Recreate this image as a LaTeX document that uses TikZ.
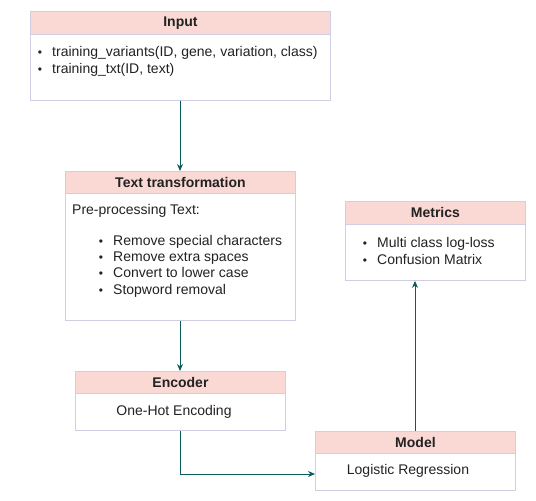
\documentclass[tikz,border=0pt]{standalone}
\usepackage{fontspec}
\setmainfont{Liberation Sans}
\usetikzlibrary{arrows.meta}
\definecolor{hdr}{HTML}{FAD9D5}
\definecolor{brd}{HTML}{D0CEE2}
\definecolor{arr}{HTML}{0B5D5C}
\definecolor{txt}{HTML}{222222}
\tikzset{
  boxbody/.style={draw=brd, line width=0.9pt, fill=white, anchor=north west, inner sep=0pt},
  boxhead/.style={draw=brd, line width=0.9pt, fill=hdr, anchor=north west, inner sep=0pt, font=\fontsize{14}{16}\selectfont\bfseries, text=txt},
  itm/.style={anchor=base west, inner sep=0pt, font=\fontsize{14}{16}\selectfont, text=txt},
  ctr/.style={anchor=base, inner sep=0pt, font=\fontsize{14}{16}\selectfont, text=txt},
  bul/.style={anchor=base, inner sep=0pt, font=\fontsize{12}{14}\selectfont, text=txt},
  conn/.style={draw=arr, line width=0.9pt, -{Stealth[length=7pt,width=6pt]}}
}
\begin{document}
\begin{tikzpicture}[x=1pt,y=-1pt]
\useasboundingbox (0,0) rectangle (536,501);
% Input
\node[boxbody, minimum width=300pt, minimum height=89pt] (input) at (30,11) {};
\node[boxhead, minimum width=300pt, minimum height=23pt] (inputh) at (30,11) {Input};
\node[bul] (ib1) at (40,56) {\textbullet};
\node[itm] (it1) at (52,56) {training\_variants(ID, gene, variation, class)};
\node[bul] (ib2) at (40,73) {\textbullet};
\node[itm] (it2) at (52,73) {training\_txt(ID, text)};
% Text transformation
\node[boxbody, minimum width=230pt, minimum height=149pt] (tt) at (65,171) {};
\node[boxhead, minimum width=230pt, minimum height=22pt] (tth) at (65,171) {Text transformation};
\node[itm] (tt0) at (72,214) {Pre-processing Text:};
\node[bul] (tb1) at (101,245) {\textbullet};
\node[itm] (tt1) at (113,245) {Remove special characters};
\node[bul] (tb2) at (101,261) {\textbullet};
\node[itm] (tt2) at (113,261) {Remove extra spaces};
\node[bul] (tb3) at (101,277) {\textbullet};
\node[itm] (tt3) at (113,277) {Convert to lower case};
\node[bul] (tb4) at (101,294) {\textbullet};
\node[itm] (tt4) at (113,294) {Stopword removal};
% Metrics
\node[boxbody, minimum width=180pt, minimum height=79pt] (met) at (345,201) {};
\node[boxhead, minimum width=180pt, minimum height=23pt] (meth) at (345,201) {Metrics};
\node[bul] (mb1) at (365,247) {\textbullet};
\node[itm] (mt1) at (377,247) {Multi class log-loss};
\node[bul] (mb2) at (365,264) {\textbullet};
\node[itm] (mt2) at (377,264) {Confusion Matrix};
% Encoder
\node[boxbody, minimum width=210pt, minimum height=59pt] (enc) at (75,371) {};
\node[boxhead, minimum width=210pt, minimum height=22pt] (ench) at (75,371) {Encoder};
\node[ctr] (enct) at (174,415) {One-Hot Encoding};
% Model
\node[boxbody, minimum width=200pt, minimum height=59pt] (mod) at (315,431) {};
\node[boxhead, minimum width=200pt, minimum height=22pt] (modh) at (315,431) {Model};
\node[ctr] (modt) at (408,474) {Logistic Regression};
% connectors
\coordinate (bend) at (180,474);
\draw[conn] (input.south -| 180,0) -- (tth.north -| 180,0);
\draw[conn] (tt.south -| 180,0) -- (ench.north -| 180,0);
\draw[conn] (enc.south -| 180,0) -- (bend) -- (mod.west |- bend);
\draw[conn] (modh.north -| 415,0) -- (met.south -| 415,0);
\end{tikzpicture}
\end{document}
